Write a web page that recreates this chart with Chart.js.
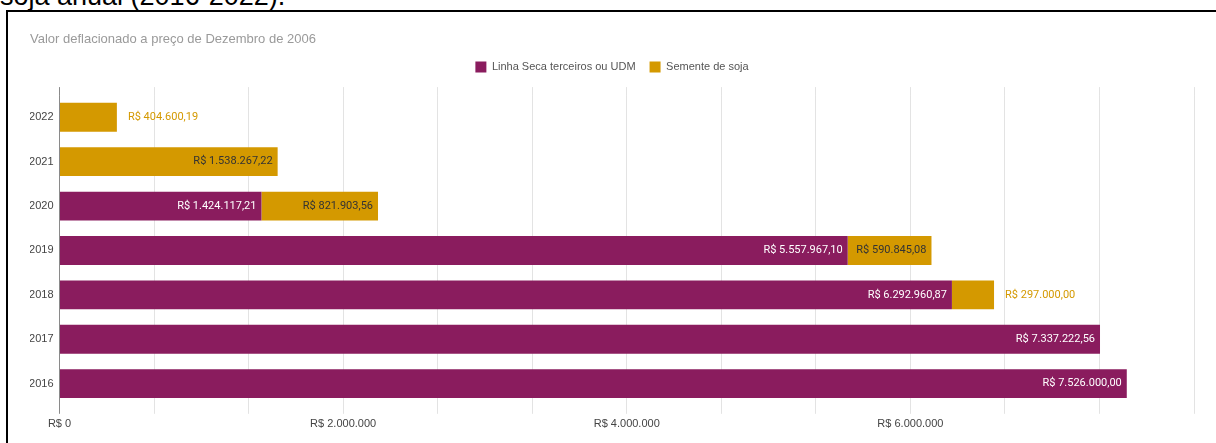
<!DOCTYPE html>
<html lang="pt-BR">
<head>
<meta charset="utf-8">
<title>Linha Seca e Semente de soja</title>
<script src="https://cdn.jsdelivr.net/npm/chart.js@4/dist/chart.umd.min.js"></script>
<style>
  html, body { margin: 0; padding: 0; background: #fff; }
  body { width: 1216px; height: 443px; overflow: hidden; position: relative; }
  .doc-text {
    position: absolute; left: 0; top: -17px;
    font: 27px/27px "Liberation Sans", Arial, sans-serif; color: #000;
    white-space: nowrap;
  }
  .frame {
    position: absolute; left: 6px; top: 10px;
    width: 1240px; height: 460px;
    border: 2px solid #000;
  }
  .chart-box { position: absolute; left: 8px; top: 12px; width: 1206px; height: 431px; }
</style>
</head>
<body>
<div class="doc-text">soja anual (2016-2022).</div>
<div class="frame"></div>
<div class="chart-box"><canvas id="sojaChart"></canvas></div>

<script>
// data
const years = ['2022', '2021', '2020', '2019', '2018', '2017', '2016'];
const linhaSeca = [null, null, 1424117.21, 5557967.10, 6292960.87, 7337222.56, 7526000.00];
const sementeSoja = [404600.19, 1538267.22, 821903.56, 590845.08, 297000.00, null, null];
const labeledTicks = [0, 2000000, 4000000, 6000000];
const axisMax = 8000000;

const PURPLE = '#8a1c5e';
const GOLD = '#d49900';
const GRID = '#e3e3e3';
const AXIS = '#8a8a8a';
const SANS = '"Liberation Sans", Arial, sans-serif';

function thousands(n) {
  return String(n).replace(/\B(?=(\d{3})+(?!\d))/g, '.');
}

function brl(v) {
  const parts = v.toFixed(2).split('.');
  return 'R$ ' + thousands(parts[0]) + ',' + parts[1];
}

function tickText(value) {
  const hit = labeledTicks.find(t => Math.abs(t - value) < 1);
  return hit === undefined ? '' : 'R$ ' + thousands(hit);
}

function gridColor(ctx) {
  return ctx.tick && Math.abs(ctx.tick.value) < 1 ? AXIS : GRID;
}

// value labels: inside the segment when they fit, otherwise after the bar
const barLabels = {
  id: 'barLabels',
  afterDatasetsDraw(chart) {
    const ctx = chart.ctx;
    ctx.save();
    ctx.font = '11px Roboto, sans-serif';
    ctx.textBaseline = 'middle';
    chart.data.datasets.forEach((ds, i) => {
      const meta = chart.getDatasetMeta(i);
      meta.data.forEach((bar, j) => {
        const v = ds.data[j];
        if (v == null) return;
        const text = brl(v);
        const w = ctx.measureText(text).width;
        const segment = bar.x - bar.base;
        if (w + 10 <= segment) {
          ctx.textAlign = 'right';
          ctx.fillStyle = ds.labelColor;
          ctx.fillText(text, bar.x - 5, bar.y);
        } else {
          let end = bar.x;
          chart.data.datasets.forEach((other, k) => {
            if (other.data[j] != null) end = Math.max(end, chart.getDatasetMeta(k).data[j].x);
          });
          ctx.textAlign = 'left';
          ctx.fillStyle = ds.backgroundColor;
          ctx.fillText(text, end + 11, bar.y);
        }
      });
    });
    ctx.restore();
  }
};

const ctx = document.getElementById('sojaChart').getContext('2d');
new Chart(ctx, {
  type: 'bar',
  data: {
    labels: years,
    datasets: [
      {
        label: 'Linha Seca terceiros ou UDM',
        data: linhaSeca,
        backgroundColor: PURPLE,
        labelColor: '#ffffff',
        borderWidth: 0,
        barPercentage: 0.65,
        categoryPercentage: 1
      },
      {
        label: 'Semente de soja',
        data: sementeSoja,
        backgroundColor: GOLD,
        labelColor: '#333333',
        borderWidth: 0,
        barPercentage: 0.65,
        categoryPercentage: 1
      }
    ]
  },
  options: {
    indexAxis: 'y',
    responsive: true,
    maintainAspectRatio: false,
    animation: false,
    layout: { padding: { left: 22, right: 20, top: 0, bottom: 8 } },
    plugins: {
      title: {
        display: true,
        text: 'Valor deflacionado a preço de Dezembro de 2006',
        align: 'start',
        color: '#9a9a9a',
        font: { family: SANS, size: 13, weight: 'normal' },
        padding: { top: 20, bottom: 0 }
      },
      legend: {
        display: true,
        position: 'top',
        labels: {
          boxWidth: 11,
          boxHeight: 11,
          padding: 14,
          color: '#555',
          font: { family: SANS, size: 11 }
        }
      },
      tooltip: { enabled: false }
    },
    scales: {
      x: {
        type: 'linear',
        position: 'bottom',
        stacked: true,
        min: 0,
        max: axisMax,
        grid: { color: gridColor, tickColor: gridColor, tickLength: 8 },
        border: { display: false },
        ticks: {
          count: 13,
          autoSkip: false,
          maxRotation: 0,
          padding: 4,
          color: '#444',
          font: { family: SANS, size: 11 },
          callback: tickText
        }
      },
      // short tick marks above the plot so the grid reaches past the first bar
      xTop: {
        type: 'linear',
        position: 'top',
        min: 0,
        max: axisMax,
        grid: { drawOnChartArea: false, color: gridColor, tickColor: gridColor, tickLength: 8 },
        border: { display: false },
        ticks: { count: 13, display: false },
        afterFit(scale) { scale.height = 12.5; }
      },
      y: {
        stacked: true,
        grid: { display: false, drawTicks: false },
        border: { display: false },
        ticks: {
          padding: 6,
          color: '#444',
          font: { family: SANS, size: 11 }
        },
        afterFit(scale) { scale.width = 29.5; }
      }
    }
  },
  plugins: [barLabels]
});
</script>
</body>
</html>
